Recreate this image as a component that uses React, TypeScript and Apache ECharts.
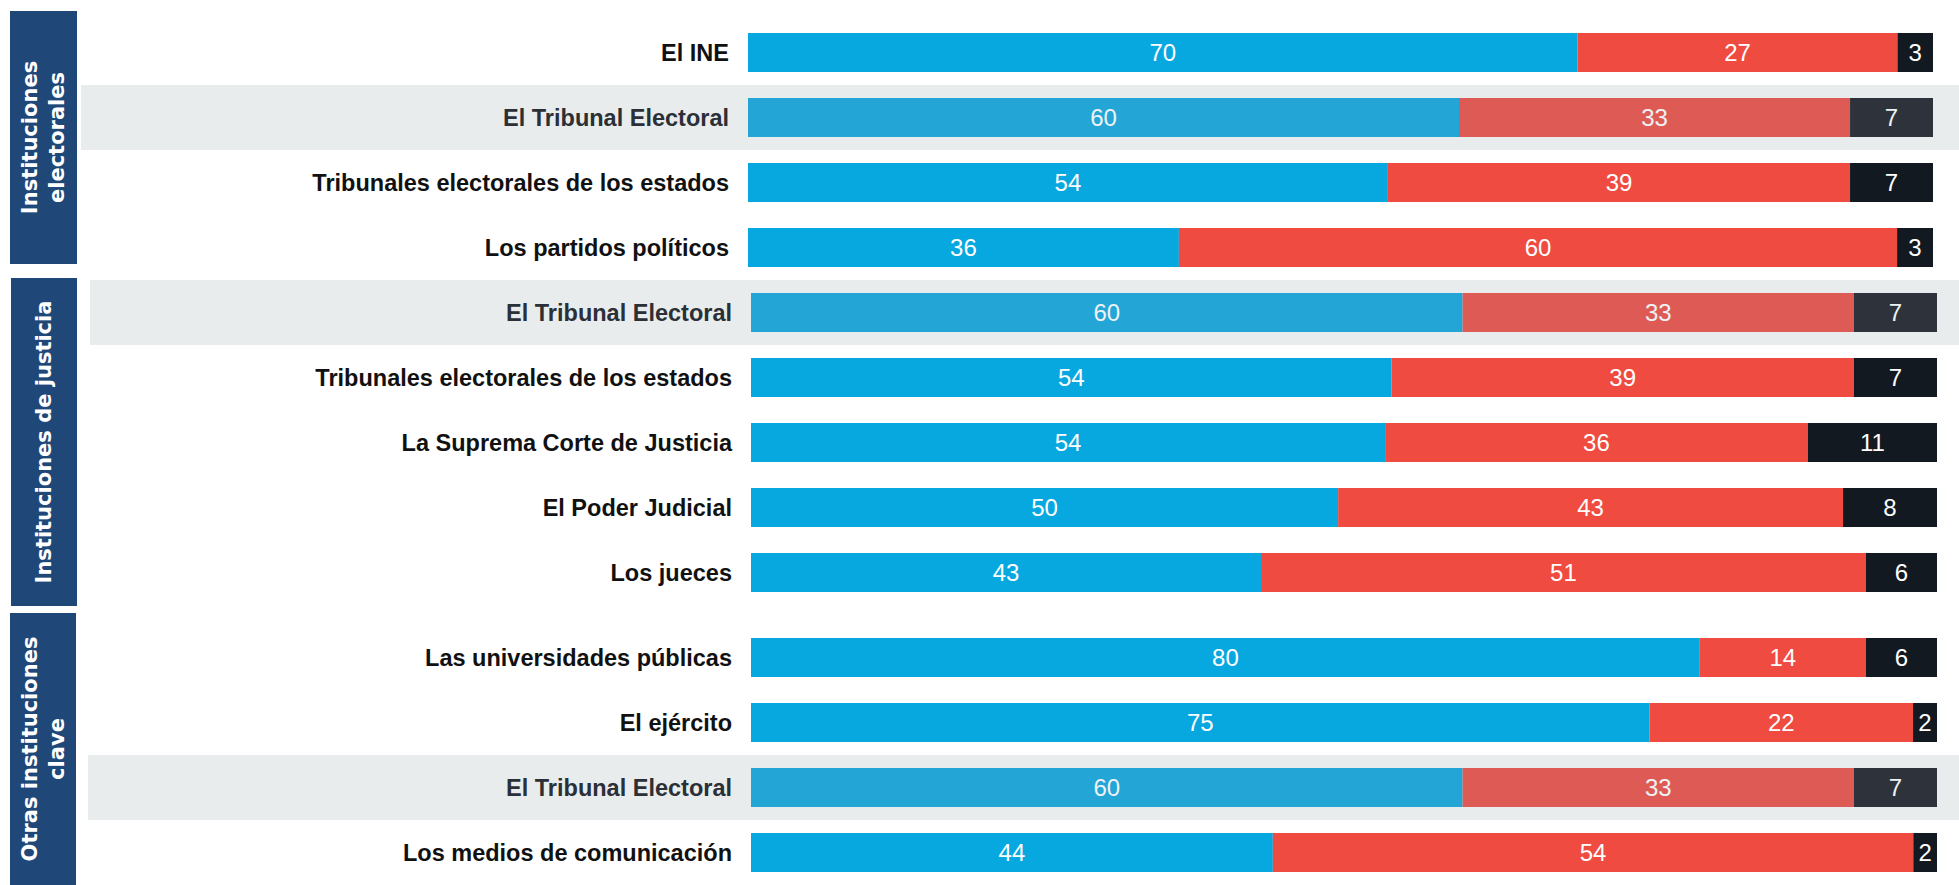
import React, { useEffect, useRef } from "react";
import * as echarts from "echarts";

// ---------- data ----------
const groupTitles = ["Instituciones\nelectorales", "Instituciones de justicia", "Otras instituciones\nclave"];

const electoralCategories = ["El INE", "El Tribunal Electoral", "Tribunales electorales de los estados", "Los partidos políticos"];
const electoralPositive = [70, 60, 54, 36];
const electoralNegative = [27, 33, 39, 60];
const electoralNone = [3, 7, 7, 3];

const justiceCategories = ["El Tribunal Electoral", "Tribunales electorales de los estados", "La Suprema Corte de Justicia", "El Poder Judicial", "Los jueces"];
const justicePositive = [60, 54, 54, 50, 43];
const justiceNegative = [33, 39, 36, 43, 51];
const justiceNone = [7, 7, 11, 8, 6];

const otherCategories = ["Las universidades públicas", "El ejército", "El Tribunal Electoral", "Los medios de comunicación"];
const otherPositive = [80, 75, 60, 44];
const otherNegative = [14, 22, 33, 54];
const otherNone = [6, 2, 7, 2];

const highlightCategory = "El Tribunal Electoral";

// ---------- styles / layout ----------
const W = 1959;
const H = 885;
const COLORS = {
  pos: "#07A7E0", posHi: "#23A5D6",
  neg: "#EF4B40", negHi: "#DE5B55",
  none: "#121920", noneHi: "#2D323B",
  band: "#E8ECED", box: "#1F4879",
};
const LABEL_FONT = "'Liberation Sans', Arial, Helvetica, sans-serif";

const panels = [
  { cats: electoralCategories, pos: electoralPositive, neg: electoralNegative, none: electoralNone,
    box: [10, 11, 67, 253], bandLeft: 81, top: 20, rowH: 65, barL: 748, barR: 1933 },
  { cats: justiceCategories, pos: justicePositive, neg: justiceNegative, none: justiceNone,
    box: [11, 278, 66, 328], bandLeft: 90, top: 280, rowH: 65, barL: 751, barR: 1937 },
  { cats: otherCategories, pos: otherPositive, neg: otherNegative, none: otherNone,
    box: [10, 613, 66, 272], bandLeft: 88, top: 625, rowH: 65, barL: 751, barR: 1937 },
];

function buildOption() {
  const grid: any[] = [];
  const xAxis: any[] = [];
  const yAxis: any[] = [];
  const series: any[] = [];
  const graphic: any[] = [];

  panels.forEach((p, i) => {
    const n = p.cats.length;
    const gridWidth = W - p.bandLeft;
    const pxPerUnit = (p.barR - p.barL) / 100;
    grid.push({
      left: p.bandLeft, top: p.top, width: gridWidth, height: p.rowH * n,
      containLabel: false, outerBoundsMode: "none",
    });
    xAxis.push({
      type: "value", gridIndex: i,
      min: -(p.barL - p.bandLeft) / pxPerUnit,
      max: 100 + (W - p.barR) / pxPerUnit,
      show: false, splitLine: { show: false },
    });
    yAxis.push({
      type: "category", gridIndex: i, inverse: true, data: p.cats,
      offset: -(p.barL - p.bandLeft),
      axisLine: { show: false, onZero: false }, axisTick: { show: false },
      axisLabel: {
        interval: 0, margin: 19, fontSize: 23.5, fontWeight: "bold", fontFamily: LABEL_FONT,
        color: (v: string) => (v === highlightCategory ? "#2B2F36" : "#111111"),
      },
      splitArea: {
        show: true, interval: 0,
        areaStyle: { color: p.cats.map((c) => (c === highlightCategory ? COLORS.band : "rgba(0,0,0,0)")) },
      },
      splitLine: { show: false },
    });

    const parts: [number[], string, string][] = [
      [p.pos, COLORS.pos, COLORS.posHi],
      [p.neg, COLORS.neg, COLORS.negHi],
      [p.none, COLORS.none, COLORS.noneHi],
    ];
    parts.forEach(([vals, col, colHi], k) => {
      series.push({
        type: "bar", name: ["Confía", "No confía", "NS/NC"][k],
        xAxisIndex: i, yAxisIndex: i, stack: "s" + i, barWidth: 39,
        data: vals.map((v, j) => {
          const total = p.pos[j] + p.neg[j] + p.none[j];
          const hi = p.cats[j] === highlightCategory;
          return {
            value: (v / total) * 100,
            raw: v,
            itemStyle: { color: hi ? colHi : col },
            label: { color: hi ? "#EEF2F5" : "#FFFFFF" },
          };
        }),
        label: {
          show: true, position: "inside", fontSize: 24, fontFamily: LABEL_FONT,
          formatter: (prm: any) => String(prm.data.raw),
        },
      });
    });

    const [bx, by, bw, bh] = p.box;
    graphic.push({ type: "rect", shape: { x: bx, y: by, width: bw, height: bh }, style: { fill: COLORS.box }, z: 10 });
    graphic.push({
      type: "text", x: bx + bw / 2, y: by + bh / 2, rotation: Math.PI / 2, z: 11,
      style: {
        text: groupTitles[i], fill: "#FFFFFF", font: "bold 21px 'DejaVu Sans', Verdana, sans-serif",
        align: "center", verticalAlign: "middle", lineHeight: 27,
      },
    });
  });

  return { animation: false, backgroundColor: "#FFFFFF", grid, xAxis, yAxis, series, graphic };
}

export default function App() {
  const ref = useRef<HTMLDivElement>(null);
  useEffect(() => {
    if (!ref.current) return;
    const chart = echarts.init(ref.current, undefined, { renderer: "svg" });
    chart.setOption(buildOption() as any);
    return () => chart.dispose();
  }, []);
  return <div ref={ref} style={{ position: "fixed", left: 0, top: 0, width: W, height: H }} />;
}
